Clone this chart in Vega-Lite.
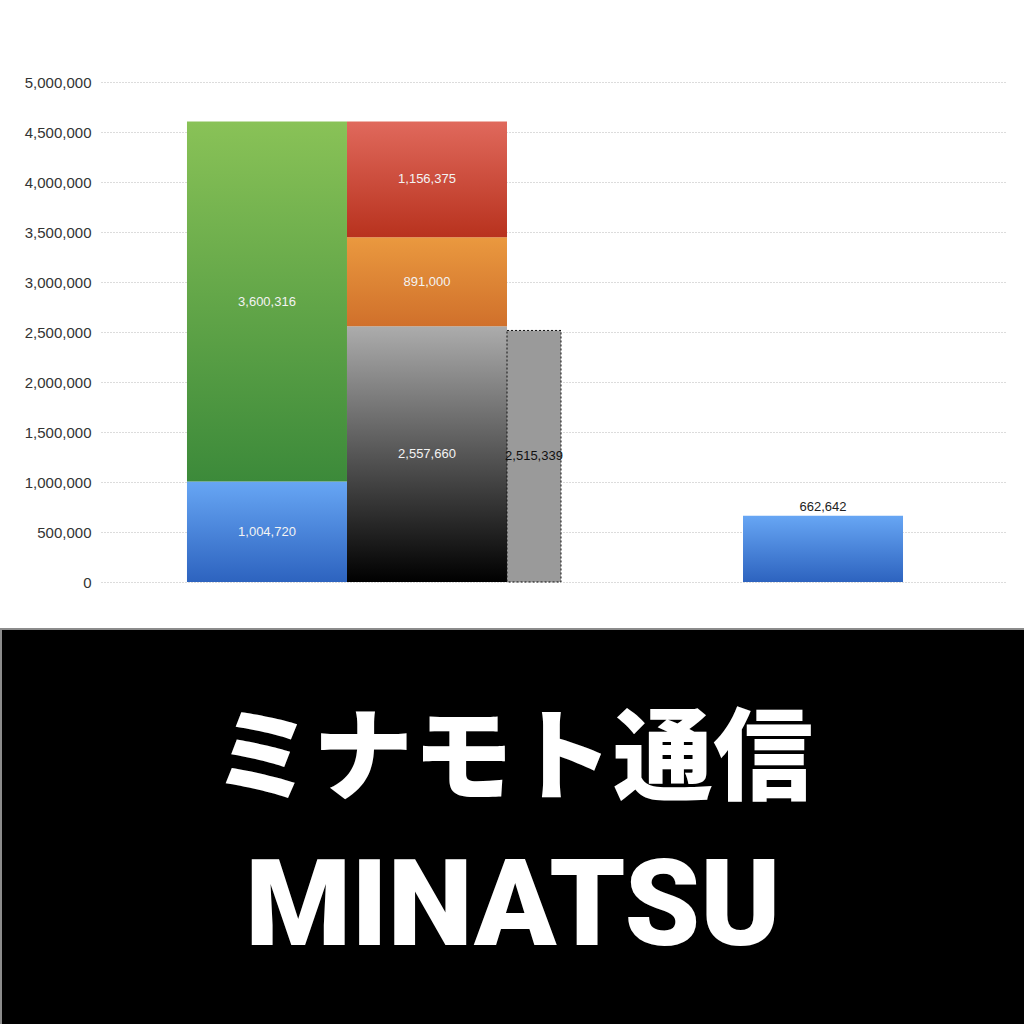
{
  "$schema": "https://vega.github.io/schema/vega-lite/v6.json",
  "padding": {"top": 75, "left": 0, "right": 0, "bottom": 0},
  "background": "white",
  "spacing": 38,
  "config": {"view": {"stroke": null}, "font": "Liberation Sans"},
  "datasets": {
    "bars": [
      {"col": "c1", "seg": 1, "series": "blue", "value": 1004720},
      {"col": "c1", "seg": 2, "series": "green", "value": 3600316},
      {"col": "c2", "seg": 1, "series": "black", "value": 2557660},
      {"col": "c2", "seg": 2, "series": "orange", "value": 891000},
      {"col": "c2", "seg": 3, "series": "red", "value": 1156375},
      {"col": "c3", "seg": 1, "series": "gray", "value": 2515339},
      {"col": "c4", "seg": 1, "series": "blue2", "value": 662642}
    ],
    "banner": [
      {"row": "a", "line": "ミナモト通信"},
      {"row": "b", "line": "MINATSU"}
    ]
  },
  "vconcat": [
    {
      "width": 1005,
      "height": 500,
      "data": {"name": "bars"},
      "transform": [
        {"stack": "value", "groupby": ["col"], "sort": [{"field": "seg", "order": "ascending"}], "as": ["v0", "v1"]}
      ],
      "encoding": {
        "x": {
          "field": "col", "type": "nominal", "axis": null,
          "scale": {"type": "band", "domain": ["c1", "c2", "c3", "c4"], "range": [100, 1005], "paddingInner": 0, "paddingOuter": 0.828, "align": 0.3245}
        },
        "y": {
          "field": "v1", "type": "quantitative",
          "scale": {"domain": [0, 5000000], "nice": false},
          "axis": {
            "title": null,
            "values": [0, 500000, 1000000, 1500000, 2000000, 2500000, 3000000, 3500000, 4000000, 4500000, 5000000],
            "format": ",d",
            "offset": -100,
            "domain": false,
            "ticks": false,
            "grid": true,
            "gridDash": [1, 2],
            "gridColor": "#b8b8b8",
            "labelFont": "Liberation Sans",
            "labelFontSize": 15,
            "labelColor": "#333333",
            "labelPadding": 10
          }
        },
        "y2": {"field": "v0"}
      },
      "layer": [
        {
          "transform": [{"filter": "datum.series === 'blue'"}],
          "mark": {"type": "bar", "color": {"gradient": "linear", "x1": 0, "y1": 0, "x2": 0, "y2": 1, "stops": [{"offset": 0, "color": "#67a6f4"}, {"offset": 1, "color": "#2d63bf"}]}}
        },
        {
          "transform": [{"filter": "datum.series === 'green'"}],
          "mark": {"type": "bar", "color": {"gradient": "linear", "x1": 0, "y1": 0, "x2": 0, "y2": 1, "stops": [{"offset": 0, "color": "#89c257"}, {"offset": 1, "color": "#3c8a3a"}]}}
        },
        {
          "transform": [{"filter": "datum.series === 'black'"}],
          "mark": {"type": "bar", "color": {"gradient": "linear", "x1": 0, "y1": 0, "x2": 0, "y2": 1, "stops": [{"offset": 0, "color": "#acacac"}, {"offset": 1, "color": "#000000"}]}}
        },
        {
          "transform": [{"filter": "datum.series === 'orange'"}],
          "mark": {"type": "bar", "color": {"gradient": "linear", "x1": 0, "y1": 0, "x2": 0, "y2": 1, "stops": [{"offset": 0, "color": "#ea993f"}, {"offset": 1, "color": "#d0702b"}]}}
        },
        {
          "transform": [{"filter": "datum.series === 'red'"}],
          "mark": {"type": "bar", "color": {"gradient": "linear", "x1": 0, "y1": 0, "x2": 0, "y2": 1, "stops": [{"offset": 0, "color": "#e0695c"}, {"offset": 1, "color": "#b8321e"}]}}
        },
        {
          "transform": [{"filter": "datum.series === 'gray'"}],
          "mark": {"type": "bar", "width": 54, "xOffset": -53, "color": "#9a9a9a", "stroke": "#111111", "strokeWidth": 1, "strokeDash": [2, 2]}
        },
        {
          "transform": [{"filter": "datum.series === 'blue2'"}],
          "mark": {"type": "bar", "xOffset": 76, "color": {"gradient": "linear", "x1": 0, "y1": 0, "x2": 0, "y2": 1, "stops": [{"offset": 0, "color": "#67a6f4"}, {"offset": 1, "color": "#2d63bf"}]}}
        },
        {
          "transform": [
            {"filter": "indexof(['blue', 'green', 'black', 'orange', 'red'], datum.series) >= 0"},
            {"fold": ["v0", "v1"], "as": ["edge", "pos"]},
            {"aggregate": [{"op": "mean", "field": "pos", "as": "mid"}], "groupby": ["col", "series", "value"]}
          ],
          "mark": {"type": "text", "fontSize": 13, "color": "#f3f3f3", "baseline": "middle"},
          "encoding": {
            "y": {"field": "mid", "type": "quantitative"},
            "y2": {"field": "mid"},
            "text": {"field": "value", "type": "quantitative", "format": ",d"}
          }
        },
        {
          "transform": [
            {"filter": "datum.series === 'gray'"},
            {"fold": ["v0", "v1"], "as": ["edge", "pos"]},
            {"aggregate": [{"op": "mean", "field": "pos", "as": "mid"}], "groupby": ["col", "series", "value"]}
          ],
          "mark": {"type": "text", "fontSize": 13, "color": "#111111", "baseline": "middle", "xOffset": -53},
          "encoding": {
            "y": {"field": "mid", "type": "quantitative"},
            "y2": {"field": "mid"},
            "text": {"field": "value", "type": "quantitative", "format": ",d"}
          }
        },
        {
          "transform": [{"filter": "datum.series === 'blue2'"}],
          "mark": {"type": "text", "fontSize": 13, "color": "#222222", "baseline": "bottom", "dy": -2, "xOffset": 76},
          "encoding": {
            "y2": {"field": "v1"},
            "text": {"field": "value", "type": "quantitative", "format": ",d"}
          }
        }
      ]
    },
    {
      "width": 1024,
      "height": 400,
      "view": {"fill": "#000000", "stroke": "#8c8c8c", "strokeWidth": 2},
      "data": {"name": "banner"},
      "encoding": {
        "y": {"field": "row", "type": "nominal", "axis": null, "scale": {"type": "point", "domain": ["a", "b"], "padding": 0.865, "align": 0.5266}}
      },
      "layer": [
        {
          "transform": [{"filter": "datum.row === 'a'"}],
          "mark": {"type": "text", "font": "Noto Sans CJK JP", "fontWeight": 900, "fontSize": 100, "color": "#ffffff", "baseline": "middle", "align": "center"},
          "encoding": {"text": {"field": "line"}}
        },
        {
          "transform": [{"filter": "datum.row === 'b'"}],
          "mark": {"type": "text", "font": "Roboto", "fontWeight": 900, "fontSize": 121, "color": "#ffffff", "baseline": "middle", "align": "center"},
          "encoding": {"text": {"field": "line"}}
        }
      ]
    }
  ]
}
